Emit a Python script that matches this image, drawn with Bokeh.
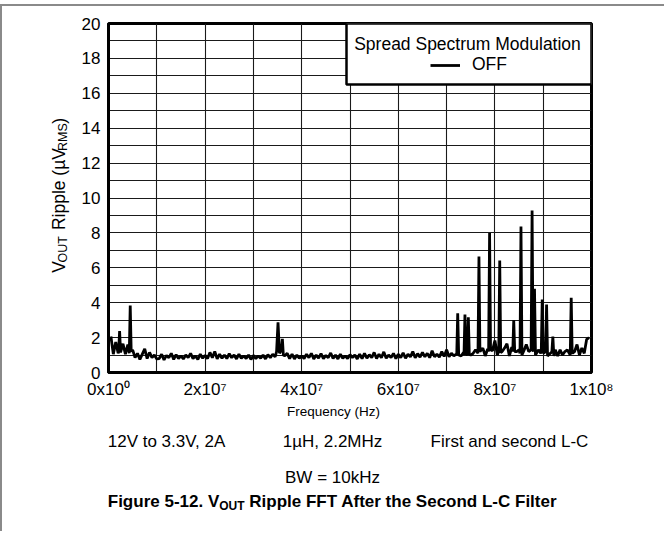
from bokeh.plotting import figure
from bokeh.layouts import column, row
from bokeh.models import FixedTicker, Label, BoxAnnotation, Legend, LegendItem, Range1d
from bokeh.core.properties import value
from bokeh.embed import file_html
from bokeh.resources import INLINE
import math

# ---------------- data ----------------
freq_mhz = [
    0.5, 1.0, 1.5, 2.0, 2.1, 2.3, 2.5, 3.0, 3.5, 4.0, 4.3, 4.5, 4.7, 5.0,
    5.5, 6.0, 6.5, 7.0, 7.5, 8.0, 8.5, 9.0, 9.5, 10.0,
    10.5, 11.0, 11.5, 12.0, 12.5, 13.0, 13.5, 14.0, 14.5, 15.0,
    15.5, 16.0, 16.5, 17.0, 17.5, 18.0, 18.5, 19.0, 19.5, 20.0,
    20.5, 21.0, 21.5, 22.0, 22.5, 23.0, 23.5, 24.0, 24.5, 25.0,
    25.5, 26.0, 26.5, 27.0, 27.5, 28.0, 28.5, 29.0, 29.5, 30.0,
    30.5, 31.0, 31.5, 32.0, 32.5, 33.0, 33.5, 34.0, 34.5,
    34.8, 35.1, 35.4, 35.8, 36.0, 36.2, 36.5, 37.0,
    37.5, 38.0, 38.5, 39.0, 39.5, 40.0,
    40.5, 41.0, 41.5, 42.0, 42.5, 43.0, 43.5, 44.0, 44.5, 45.0,
    45.5, 46.0, 46.5, 47.0, 47.5, 48.0, 48.5, 49.0, 49.5, 50.0,
    50.5, 51.0, 51.5, 52.0, 52.5, 53.0, 53.5, 54.0, 54.5, 55.0,
    55.5, 56.0, 56.5, 57.0, 57.5, 58.0, 58.5, 59.0, 59.5, 60.0,
    60.5, 61.0, 61.5, 62.0, 62.5, 63.0, 63.5, 64.0, 64.5, 65.0,
    65.5, 66.0, 66.5, 67.0, 67.5, 68.0, 68.5, 69.0, 69.5, 70.0,
    70.5, 71.0, 71.5, 72.0, 72.1, 72.3, 72.5, 73.0, 73.5, 73.6, 73.8, 74.0,
    74.3, 74.5, 74.7, 75.0, 75.5, 76.0, 76.5, 76.7, 76.9, 77.5, 78.0, 78.5,
    78.7, 78.9, 79.1, 79.5, 80.0, 80.5, 80.8, 81.0, 81.2, 81.5, 82.0, 82.5,
    83.0, 83.5, 83.7, 83.9, 84.1, 84.5, 85.0, 85.2, 85.4, 85.6, 86.0, 86.5,
    87.0, 87.5, 87.7, 87.9, 88.0, 88.2, 88.4, 89.0, 89.5, 89.6, 89.8, 90.0,
    90.5, 90.7, 90.9, 91.5, 91.8, 92.0, 92.2, 92.5, 93.0, 93.5, 94.0, 94.5,
    95.0, 95.6, 95.8, 96.0, 96.5, 97.0, 97.5, 98.0, 98.5, 99.0, 99.5,
]
ripple_uv = [
    2.06, 1.05, 1.75, 1.10, 1.20, 2.37, 1.15, 1.65, 1.05, 1.60, 1.10, 3.84, 1.20, 1.30,
    0.85, 1.10, 0.75, 1.05, 1.35, 0.80, 1.15, 0.85, 1.00, 0.78,
    0.80, 1.05, 0.72, 0.98, 0.85, 1.10, 0.75, 1.02, 0.80, 0.95,
    0.78, 1.00, 0.85, 1.10, 0.80, 0.95, 0.75, 1.05, 0.82, 0.98,
    0.80, 1.15, 0.85, 1.20, 0.78, 1.05, 0.82, 1.00, 0.80, 1.08,
    0.85, 1.00, 0.78, 1.05, 0.82, 0.95, 0.80, 1.00, 0.75, 0.98,
    0.80, 0.95, 0.82, 1.00, 0.78, 1.02, 0.85, 1.05, 0.90,
    1.20, 2.88, 1.10, 1.30, 1.93, 1.00, 0.95, 1.10,
    0.80, 1.05, 0.78, 1.00, 0.82, 0.95,
    0.80, 1.05, 0.85, 1.10, 0.78, 1.00, 0.82, 1.08, 0.80, 0.98,
    0.85, 1.12, 0.80, 1.00, 0.78, 1.05, 0.82, 0.95, 0.80, 1.02,
    0.85, 1.00, 0.78, 1.05, 0.80, 1.10, 0.82, 1.02, 0.85, 1.15,
    0.80, 1.05, 0.85, 1.18, 0.82, 1.00, 0.85, 1.10, 0.80, 1.05,
    0.85, 1.12, 0.82, 1.05, 0.90, 1.20, 0.85, 1.08, 0.88, 1.15,
    0.90, 1.10, 0.85, 1.25, 0.90, 1.05, 0.88, 1.20, 0.92, 1.30,
    0.90, 1.10, 0.95, 1.05, 1.00, 3.40, 1.00, 0.95, 1.15, 1.00, 3.32, 1.10,
    1.00, 3.17, 1.05, 1.00, 1.10, 1.30, 1.10, 6.65, 1.20, 1.40, 0.95, 1.35,
    1.20, 8.00, 1.30, 1.25, 1.83, 1.00, 1.20, 6.42, 1.15, 1.20, 1.40, 1.65,
    0.95, 1.45, 1.20, 3.00, 1.20, 1.20, 1.30, 1.10, 8.37, 1.00, 1.25, 1.60,
    1.20, 1.30, 9.28, 1.30, 1.20, 4.80, 1.00, 1.30, 1.10, 1.20, 4.18, 1.10,
    1.20, 3.90, 0.95, 1.10, 1.20, 2.06, 0.95, 1.30, 0.95, 1.30, 1.00, 1.20,
    1.30, 1.00, 4.28, 1.10, 1.20, 1.60, 1.00, 1.40, 1.10, 1.90, 2.00,
]
x_tick_values = [0, 20000000, 40000000, 60000000, 80000000, 100000000]
x_tick_labels = ["0x10\u2070", "2x10\u2077", "4x10\u2077", "6x10\u2077", "8x10\u2077", "1x10\u2078"]
y_tick_values = [0, 2, 4, 6, 8, 10, 12, 14, 16, 18, 20]
legend_title = "Spread Spectrum Modulation"
series_name = "OFF"
x_title = "Frequency (Hz)"
conditions = ["12V to 3.3V, 2A", "1\u00b5H, 2.2MHz", "First and second L-C", "BW = 10kHz"]

# ---------------- layout ----------------
FONT = "Liberation Sans"
NB = "\u00a0"
LW = 70            # width of the y-title strip
MW, MH = 592, 396  # main chart figure
BH = 129           # strip below the chart for notes and caption
FL, FR, FT, FB = 36, 519, 17, 366   # plot frame inside the main figure
X0, X1, Y0, Y1 = 0, 1e8, 0, 20
SHIFT = 0.35       # baseline correction, in em


def sx(cx):
    return X0 + (cx - FL) / (FR - FL) * (X1 - X0)


def sy(cy):
    return Y0 + (FB - cy) / (FB - FT) * (Y1 - Y0)


p = figure(width=MW, height=MH, x_range=Range1d(X0, X1), y_range=Range1d(Y0, Y1),
           output_backend="svg", toolbar_location=None,
           min_border_left=FL, min_border_right=MW - FR,
           min_border_top=FT, min_border_bottom=MH - FB,
           background_fill_color="white", border_fill_color="white")

p.xgrid.ticker = FixedTicker(ticks=[i * 1e7 for i in range(11)])
p.ygrid.ticker = FixedTicker(ticks=list(range(21)))
for g in (p.xgrid, p.ygrid):
    g.grid_line_color = "#1a1a1a"
    g.grid_line_width = 1.1

p.xaxis.ticker = FixedTicker(ticks=x_tick_values)
p.xaxis.major_label_overrides = {v: t for v, t in zip(x_tick_values, x_tick_labels)}
p.yaxis.ticker = FixedTicker(ticks=y_tick_values)
for ax in (p.xaxis, p.yaxis):
    ax.major_tick_line_color = None
    ax.minor_tick_line_color = None
    ax.major_tick_out = 0
    ax.major_tick_in = 0
    ax.axis_line_color = "black"
    ax.axis_line_width = 3
    ax.major_label_text_font = FONT
    ax.major_label_text_font_size = "17px"
    ax.major_label_text_color = "black"
p.xaxis.major_label_standoff = 7
p.yaxis.major_label_standoff = 8

p.outline_line_color = "black"
p.outline_line_width = 3
p.outline_line_alpha = 1

line_r = p.line(x=[f * 1e6 for f in freq_mhz], y=ripple_uv, line_color="black",
                line_width=2.8, line_join="bevel")

# legend box with centred title and item
box = BoxAnnotation(left=sx(274), right=X1, top=Y1, bottom=sy(78),
                    fill_color="white", fill_alpha=1.0,
                    line_color="black", line_width=2.5, line_alpha=1.0)
p.add_layout(box)
p.add_layout(Label(x=sx(395), y=sy(44 - SHIFT * 17.5), text=legend_title, text_align="center",
                   text_baseline="alphabetic", text_font=FONT, text_font_size="17.5px",
                   text_color="black"))
legend = Legend(items=[LegendItem(label=series_name, renderers=[line_r])],
                location=(322, 297), border_line_color=None, background_fill_alpha=0,
                padding=0, margin=0, spacing=0, glyph_width=30, glyph_height=20,
                label_standoff=12, label_text_font=FONT, label_text_font_size="17.5px",
                label_text_color="black")
p.add_layout(legend)


def text_strip(w, h):
    f = figure(width=w, height=h, x_range=Range1d(0, w), y_range=Range1d(h, 0),
               output_backend="svg", toolbar_location=None,
               x_axis_location=None, y_axis_location=None, min_border=0,
               background_fill_color="white", border_fill_color="white")
    f.outline_line_color = None
    f.grid.visible = False
    return f


def put(f, x, y, text, size=17, bold=False, align="left", angle=0.0):
    # (x, y) is the wanted baseline point; correct for the renderer's baseline offset
    off = SHIFT * size
    if angle:
        x -= off
    else:
        y -= off
    f.text(x=[x], y=[y], text=[text], angle=angle, text_align=align,
           text_baseline="alphabetic", text_font=value(FONT),
           text_font_size=value(f"{size}px"),
           text_font_style="bold" if bold else "normal", text_color="black")


# y-axis title strip, with subscripts (rotated, reading upward)
yt = text_strip(LW, MH)
big, small = 17.5, 12.5
w_V = 0.667 * big
w_OUT = (0.778 + 0.722 + 0.611) * small
w_mid = (0.278 + 0.722 + 0.222 + 0.556 + 0.556 + 0.222 + 0.556 + 0.278 + 0.333 + 0.576 + 0.667) * big
w_RMS = (0.722 + 0.833 + 0.667) * small
w_close = 0.333 * big
total = w_V + w_OUT + w_mid + w_RMS + w_close
bx = 63
ang = math.pi / 2
bottom_end = (FT + FB) / 2 + total / 2 + 12
top_end = (FT + FB) / 2 - total / 2 - 5
# lower part placed from the bottom end
put(yt, bx, bottom_end, "V", size=big, angle=ang)
put(yt, bx + 2, bottom_end - w_V, "OUT", size=small, angle=ang)
# upper part placed (right-aligned) from the top end
put(yt, bx, top_end, ")", size=big, angle=ang, align="right")
put(yt, bx + 2, top_end + w_close, "RMS", size=small, angle=ang, align="right")
put(yt, bx, top_end + w_close + w_RMS + 0.5, "Ripple (\u00b5V", size=big, angle=ang,
    align="right")

# strip below: x title, test conditions, caption
bt = text_strip(LW + MW, BH)
put(bt, 331, 14, x_title, size=13.5, align="center")
put(bt, 164, 45, conditions[0], align="center")
put(bt, 330, 45, conditions[1], align="center")
put(bt, 507, 45, conditions[2], align="center")
put(bt, 330, 81, conditions[3], align="center")

c1 = "Figure 5-12. V"
c2 = "OUT"
c3 = NB + "Ripple FFT After the Second L-C Filter"
w1 = (0.611 + 0.278 + 0.611 + 0.611 + 0.389 + 0.556 + 0.278 + 0.556 + 0.333 + 0.556 + 0.556 + 0.278 + 0.278 + 0.667) * 17
w2 = (0.778 + 0.722 + 0.611) * 12
w3 = 18.391 * 17
start = 330 - (w1 + w2 + w3) / 2
put(bt, start, 105, c1, bold=True)
put(bt, start + w1, 108, c2, size=12, bold=True)
put(bt, start + w1 + w2, 105, c3, bold=True)

layout = column(row(yt, p), bt,
                styles={"border-left": "2px solid #8a8a8a", "border-top": "2px solid #8a8a8a",
                        "margin-top": "4px"})

open("out.html", "w").write(file_html(layout, INLINE))
